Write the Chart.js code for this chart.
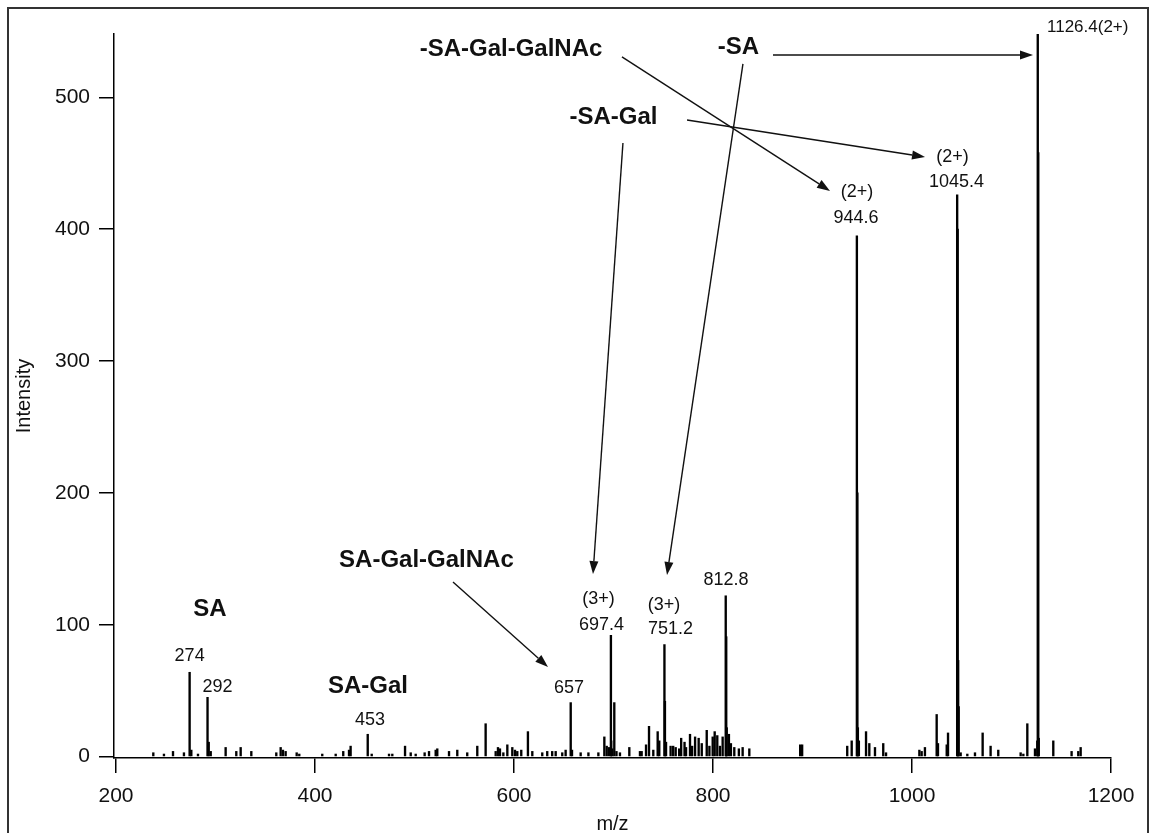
<!DOCTYPE html>
<html>
<head>
<meta charset="utf-8">
<script src="https://cdn.jsdelivr.net/npm/chart.js@4.4.1/dist/chart.umd.min.js"></script>
<style>
  html, body { margin: 0; padding: 0; background: #fff; }
  #wrap { width: 1152px; height: 833px; position: relative; }
</style>
</head>
<body>
<div id="wrap"><canvas id="spectrum"></canvas></div>
<script>
// Stick spectrum: m/z of each peak and its intensity
const peakMz = [
  237.5, 248.2, 257.3, 268.3, 274, 275.7, 282.4, 292, 293.2, 295.2,
  310.2, 320.9, 325.3, 336, 361.1, 365.5, 367.8, 370.5, 381.6, 384.2,
  407.3, 420.8, 428.4, 434.2, 435.8, 453, 457, 474.4, 477.7, 490.5,
  496.2, 501.2, 510.2, 514.6, 521.3, 522.9, 534.7, 543, 553, 563.1,
  571.5, 581.6, 583.9, 585.9, 589.3, 593.3, 598.3, 601, 603.3, 607.3,
  614, 618.4, 628.4, 633.4, 638.4, 641.9, 648.5, 651.9, 657, 658.3,
  667, 674.8, 684.8, 690.8, 693.2, 695.5, 697.4, 697.7, 698.8, 700.8,
  703, 706.5, 715.9, 726.6, 728.3, 732.7, 735.7, 740, 744.4, 746,
  751.2, 751.7, 752.8, 757.4, 760, 762.5, 766, 768, 771.4, 772.9,
  776.9, 779, 782, 785.6, 788.7, 793.7, 796.4, 799.7, 801.7, 804.3,
  807, 809.7, 812.8, 813.3, 813.8, 816, 818, 821.4, 826, 829.8,
  836.5, 887.6, 889.6, 934.9, 939.4, 944.6, 945.1, 945.6, 946.6, 953.8,
  957.1, 962.8, 971.1, 973.9, 1007.4, 1009.7, 1013, 1024.8, 1026.1, 1034.9,
  1036.2, 1045.4, 1045.9, 1046.4, 1046.9, 1048.9, 1055.6, 1063.3, 1071, 1079,
  1086.7, 1109.2, 1111.9, 1115.9, 1123.6, 1125.9, 1126.4, 1126.9, 1127.4, 1142,
  1160.4, 1167.1, 1169.5
];
const peakIntensity = [
  3, 2, 4, 3, 64, 5, 2, 45, 11, 4,
  7, 4, 7, 4, 3, 7, 5, 4, 3, 2,
  2, 2, 4, 5, 8, 17, 2, 2, 2, 8,
  3, 2, 3, 4, 5, 6, 4, 5, 3, 8,
  25, 4, 7, 6, 3, 9, 7, 5, 4, 5,
  19, 4, 3, 4, 4, 4, 3, 5, 41, 5,
  3, 3, 3, 15, 8, 7, 92, 12, 6, 41,
  4, 3, 7, 4, 4, 9, 23, 5, 19, 12,
  85, 42, 11, 8, 8, 7, 6, 14, 11, 7,
  17, 8, 15, 14, 10, 20, 8, 15, 19, 16,
  8, 15, 122, 91, 22, 17, 10, 7, 6, 7,
  6, 9, 9, 8, 12, 395, 200, 22, 12, 19,
  10, 7, 10, 3, 5, 4, 7, 32, 10, 9,
  18, 426, 400, 73, 38, 3, 2, 3, 18, 8,
  5, 3, 2, 25, 6, 12, 548, 458, 14, 12,
  4, 4, 7
];

const xTicks = [200, 400, 600, 800, 1000, 1200];
const yTicks = [0, 100, 200, 300, 400, 500];

// Peak names and the m/z they mark
const peakLabelText = ['274', '292', '453', '657', '697.4', '751.2', '812.8', '944.6', '1045.4', '1126.4(2+)'];
const fragmentNames = ['SA', 'SA-Gal', 'SA-Gal-GalNAc', '-SA-Gal-GalNAc', '-SA', '-SA-Gal'];
const chargeText = ['(3+)', '(3+)', '(2+)', '(2+)'];

const FONT = "'Liberation Sans', Arial, Helvetica, sans-serif";

// Where each text sits, in axis units (m/z, intensity)
const peakLabelPlace = [
  [274, 76.4], [302.1, 52.9], [455.3, 27.8], [655.3, 52.1], [688, 99.9],
  [757.3, 97], [813, 134], [943.7, 408.5], [1044.7, 435.8], [1135.7, 553.3]
];
const fragmentPlace = [
  [294.5, 112], [453.3, 53.6], [512, 149.2], [597, 536.6], [825.6, 538], [700, 485]
];
const chargePlace = [[684.9, 119.6], [750.8, 115], [944.7, 428.2], [1040.7, 454.7]];

// Arrows from each loss name to the peak it produced
const arrowPaths = [
  [[860.3, 532.1], [1121.6, 532.1]],
  [[708.5, 530.6], [917.6, 429]],
  [[773.9, 482.8], [1013.1, 454.7]],
  [[709.5, 465.3], [679.4, 138.5]],
  [[830.1, 525.3], [753.8, 137.8]],
  [[538.7, 132.5], [634.2, 68]]
];

const notesPlugin = {
  id: 'spectrumNotes',
  beforeDraw(chart) {
    const ctx = chart.ctx;
    ctx.save();
    ctx.fillStyle = '#fff';
    ctx.fillRect(0, 0, chart.width, chart.height);
    ctx.restore();
  },
  afterDraw(chart) {
    const { ctx, scales: { x, y } } = chart;
    const px = p => [x.getPixelForValue(p[0]), y.getPixelForValue(p[1])];
    ctx.save();
    ctx.fillStyle = '#111';
    ctx.textBaseline = 'middle';

    const write = (text, place, font, align) => {
      const [cx, cy] = px(place);
      ctx.font = font;
      ctx.textAlign = align || 'center';
      ctx.fillText(text, cx, cy);
    };

    peakLabelText.forEach((t, i) => {
      const last = i === peakLabelText.length - 1;
      write(t, peakLabelPlace[i], (last ? '17px ' : '18px ') + FONT, last ? 'left' : 'center');
    });
    fragmentNames.forEach((t, i) => write(t, fragmentPlace[i], 'bold 24px ' + FONT));
    chargeText.forEach((t, i) => write(t, chargePlace[i], '18px ' + FONT));

    ctx.strokeStyle = '#111';
    ctx.lineWidth = 1.4;
    arrowPaths.forEach(([a, b]) => {
      const [x0, y0] = px(a);
      const [x1, y1] = px(b);
      const ang = Math.atan2(y1 - y0, x1 - x0);
      const len = 13, half = 4.5;
      const bx = x1 - len * Math.cos(ang), by = y1 - len * Math.sin(ang);
      ctx.beginPath();
      ctx.moveTo(x0, y0);
      ctx.lineTo(bx, by);
      ctx.stroke();
      ctx.beginPath();
      ctx.moveTo(x1, y1);
      ctx.lineTo(bx + half * Math.sin(ang), by - half * Math.cos(ang));
      ctx.lineTo(bx - half * Math.sin(ang), by + half * Math.cos(ang));
      ctx.closePath();
      ctx.fill();
    });

    // outer frame
    ctx.strokeStyle = '#333';
    ctx.lineWidth = 2;
    ctx.strokeRect(8, 8, 1140, 900);
    ctx.restore();
  }
};

Chart.defaults.font.family = FONT;
Chart.defaults.color = '#111';

new Chart(document.getElementById('spectrum'), {
  type: 'bar',
  data: {
    datasets: [{
      data: peakMz.map((m, i) => ({ x: m, y: peakIntensity[i] })),
      backgroundColor: '#000',
      borderWidth: 0,
      barThickness: 1.7,
      grouped: false
    }]
  },
  options: {
    responsive: true,
    maintainAspectRatio: false,
    animation: false,
    events: [],
    layout: { padding: { left: 0, right: 41, top: 34, bottom: 0 } },
    plugins: { legend: { display: false }, tooltip: { enabled: false } },
    scales: {
      x: {
        type: 'linear',
        offset: false,
        min: 198,
        max: 1200,
        afterBuildTicks: s => { s.ticks = xTicks.map(v => ({ value: v })); },
        afterFit: s => { s.height = 75; },
        ticks: { autoSkip: false, maxRotation: 0, padding: 11, font: { size: 21 }, color: '#111',
                 callback: v => String(v) },
        grid: { offset: false, drawOnChartArea: false, drawTicks: true, tickLength: 15, color: '#000', lineWidth: 1.5 },
        border: { display: true, color: '#000', width: 1.5 },
        title: { display: true, text: 'm/z', font: { size: 20 }, color: '#111', padding: { top: 0, bottom: -3 } }
      },
      y: {
        min: -1,
        max: 548,
        afterBuildTicks: s => { s.ticks = yTicks.map(v => ({ value: v })); },
        afterFit: s => { s.width = 114; },
        ticks: { padding: 9, font: { size: 21 }, color: '#111', callback: v => String(v) },
        grid: { drawOnChartArea: false, drawTicks: true, tickLength: 15, color: '#000', lineWidth: 1.5 },
        border: { display: true, color: '#000', width: 1.5 },
        title: { display: true, text: 'Intensity', font: { size: 20 }, color: '#111', padding: { top: 12, bottom: 0 } }
      }
    }
  },
  plugins: [notesPlugin]
});
</script>
</body>
</html>
